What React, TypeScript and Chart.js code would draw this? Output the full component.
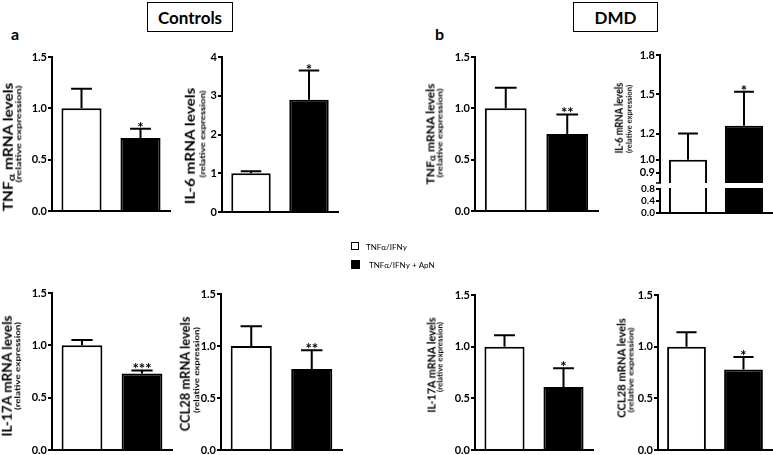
import React, { useEffect, useRef } from "react";
import { Chart, registerables } from "chart.js";
Chart.register(...registerables);

const FONT = "Lato, 'Open Sans', sans-serif";

// ---------- data ----------
const groups = ["TNFα/IFNγ", "TNFα/IFNγ + ApN"];
const barColors = ["#ffffff", "#000000"];

const ctrlTnfMean = [1.0, 0.71];
const ctrlTnfErr = [0.19, 0.09];
const ctrlTnfSig = ["", "*"];

const ctrlIl6Mean = [1.0, 2.9];
const ctrlIl6Err = [0.05, 0.75];
const ctrlIl6Sig = ["", "*"];

const dmdTnfMean = [1.0, 0.75];
const dmdTnfErr = [0.2, 0.19];
const dmdTnfSig = ["", "**"];

const dmdIl6Mean = [1.0, 1.26];
const dmdIl6Err = [0.2, 0.26];
const dmdIl6Sig = ["", "*"];

const ctrlIl17Mean = [1.0, 0.73];
const ctrlIl17Err = [0.05, 0.03];
const ctrlIl17Sig = ["", "***"];

const ctrlCclMean = [1.0, 0.78];
const ctrlCclErr = [0.19, 0.18];
const ctrlCclSig = ["", "**"];

const dmdIl17Mean = [1.0, 0.61];
const dmdIl17Err = [0.11, 0.18];
const dmdIl17Sig = ["", "*"];

const dmdCclMean = [1.0, 0.78];
const dmdCclErr = [0.14, 0.12];
const dmdCclSig = ["", "*"];

const ticks15 = [0, 0.5, 1.0, 1.5];
const ticks4 = [0, 1, 2, 3, 4];
const brokenUpperTicks = [0.9, 1.0, 1.2, 1.5, 1.8];
const brokenLowerTicks = [0, 0.4, 0.8];
const brokenUpperRange = [0.8, 1.8];
const brokenLowerRange = [0, 0.9];

// ---------- layout ----------
const YW = 26; // y axis box width
const PT = 10;
const PB = 8;
const BP = 0.68;

type Geom = { ax: number; end: number; top: number; bottom: number };

const errPlugin = (mean: number[], err: number[], sig: string[], yID: string, dsIndex: number) => ({
  id: "errbars",
  afterDatasetsDraw(chart: any) {
    const ctx = chart.ctx;
    const ys = chart.scales[yID];
    const meta = chart.getDatasetMeta(dsIndex);
    ctx.save();
    ctx.strokeStyle = "#000";
    ctx.fillStyle = "#000";
    ctx.lineWidth = 2;
    meta.data.forEach((bar: any, i: number) => {
      const x = bar.x;
      const w = bar.width;
      const y0 = ys.getPixelForValue(mean[i]);
      const y1 = ys.getPixelForValue(mean[i] + err[i]);
      ctx.beginPath();
      ctx.moveTo(x, y0);
      ctx.lineTo(x, y1);
      ctx.moveTo(x - w * 0.26, y1);
      ctx.lineTo(x + w * 0.26, y1);
      ctx.stroke();
      if (sig[i]) {
        ctx.font = `bold 15px ${FONT}`;
        ctx.textAlign = "center";
        ctx.textBaseline = "alphabetic";
        ctx.fillText(sig[i], x, y1 + 4);
      }
    });
    ctx.restore();
  },
});

const yAxis = (ticks: number[], digits: number, extra: any = {}, size = 11) => ({
  min: ticks[0],
  max: ticks[ticks.length - 1],
  afterBuildTicks: (s: any) => {
    s.ticks = ticks.map((v) => ({ value: v }));
  },
  afterFit: (s: any) => {
    s.width = YW;
  },
  grid: { display: true, drawOnChartArea: false, drawTicks: true, tickLength: 4, color: "#000", lineWidth: 2 },
  border: { display: true, color: "#000", width: 2 },
  ticks: {
    font: { family: FONT, size, weight: "bold" },
    color: "#000",
    padding: 1,
    autoSkip: false,
    callback: (v: any) => Number(v).toFixed(digits),
  },
  ...extra,
});

const xAxis = {
  afterFit: (s: any) => {
    s.height = PB;
  },
  grid: { display: true, drawOnChartArea: false, drawTicks: false },
  border: { display: true, color: "#000", width: 2 },
  ticks: { display: false },
};

function canvasBox(g: Geom) {
  const left = g.ax - YW;
  const top = g.top - PT;
  return { left, top, width: g.end - left + 1, height: g.bottom - top + PB };
}

function BarPanel({ g, mean, err, sig, ticks, digits }: any) {
  const ref = useRef<HTMLCanvasElement>(null);
  const box = canvasBox(g);
  useEffect(() => {
    const chart = new Chart(ref.current as HTMLCanvasElement, {
      type: "bar",
      data: {
        labels: groups,
        datasets: [
          {
            data: mean,
            backgroundColor: barColors,
            borderColor: "#000",
            borderWidth: 2,
            borderSkipped: "start",
            barPercentage: BP,
            categoryPercentage: 1,
          },
        ],
      },
      options: {
        responsive: false,
        animation: false,
        devicePixelRatio: 1,
        layout: { padding: { top: PT, right: 1, left: 0, bottom: 0 } },
        plugins: { legend: { display: false }, tooltip: { enabled: false } },
        scales: { x: xAxis as any, y: yAxis(ticks, digits) as any },
      },
      plugins: [errPlugin(mean, err, sig, "y", 0)],
    });
    return () => chart.destroy();
  }, []);
  return (
    <canvas
      ref={ref}
      width={box.width}
      height={box.height}
      style={{ position: "absolute", left: box.left, top: box.top, width: box.width, height: box.height }}
    />
  );
}

const breakPlugin = {
  id: "axisbreak",
  afterDraw(chart: any) {
    const ctx = chart.ctx;
    const hi = chart.scales.yHigh;
    const ca = chart.chartArea;
    const yb = hi.bottom;
    ctx.save();
    ctx.fillStyle = "#fff";
    ctx.fillRect(ca.left - 5, yb - 3, ca.right - ca.left + 6, 5);
    ctx.strokeStyle = "#000";
    ctx.lineWidth = 1.5;
    ctx.beginPath();
    ctx.moveTo(ca.left - 4, yb - 3);
    ctx.lineTo(ca.left + 1, yb - 3);
    ctx.stroke();
    ctx.restore();
  },
};

function BrokenPanel({ g, mean, err, sig }: any) {
  const ref = useRef<HTMLCanvasElement>(null);
  const box = canvasBox(g);
  useEffect(() => {
    const upperData = mean.map((v: number) => [brokenUpperRange[0], v]);
    const lowerData = mean.map((v: number) => Math.min(v, brokenLowerRange[1]));
    const chart = new Chart(ref.current as HTMLCanvasElement, {
      type: "bar",
      data: {
        labels: groups,
        datasets: [
          {
            data: upperData,
            yAxisID: "yHigh",
            backgroundColor: barColors,
            borderColor: "#000",
            borderWidth: 2,
            borderSkipped: "start",
            barPercentage: BP,
            categoryPercentage: 1,
            grouped: false,
          } as any,
          {
            data: lowerData,
            yAxisID: "yLow",
            backgroundColor: barColors,
            borderColor: "#000",
            borderWidth: 2,
            borderSkipped: "start",
            barPercentage: BP,
            categoryPercentage: 1,
            grouped: false,
          } as any,
        ],
      },
      options: {
        responsive: false,
        animation: false,
        devicePixelRatio: 1,
        layout: { padding: { top: PT, right: 1, left: 0, bottom: 0 } },
        plugins: { legend: { display: false }, tooltip: { enabled: false } },
        scales: {
          x: xAxis as any,
          yLow: {
            ...yAxis(brokenLowerTicks, 1, { stack: "brk", stackWeight: 27, offset: false }, 10),
            min: brokenLowerRange[0],
            max: brokenLowerRange[1],
          } as any,
          yHigh: {
            ...yAxis(brokenUpperTicks, 1, { stack: "brk", stackWeight: 131, offset: false }),
            min: brokenUpperRange[0],
            max: brokenUpperRange[1],
          } as any,
        },
      },
      plugins: [errPlugin(mean, err, sig, "yHigh", 0), breakPlugin],
    });
    return () => chart.destroy();
  }, []);
  return (
    <canvas
      ref={ref}
      width={box.width}
      height={box.height}
      style={{ position: "absolute", left: box.left, top: box.top, width: box.width, height: box.height }}
    />
  );
}

let measureCtx: CanvasRenderingContext2D | null = null;
function textWidth(text: string, font: string) {
  if (!measureCtx) measureCtx = document.createElement("canvas").getContext("2d");
  measureCtx!.font = font;
  return measureCtx!.measureText(text).width;
}

function VText({ text, alpha, cx, cy, size, len }: any) {
  const font = `bold ${size}px ${FONT}`;
  const w = textWidth(text, font);
  const sx = len / w;
  let content: any = text;
  if (alpha) {
    const [a, b] = text.split("α");
    content = (
      <>
        {a}
        <span style={{ fontSize: "0.8em", verticalAlign: "-0.15em" }}>α</span>
        {b}
      </>
    );
  }
  return (
    <div
      style={{
        position: "absolute",
        left: cx,
        top: cy,
        transform: `translate(-50%, -50%) rotate(-90deg) scaleX(${sx})`,
        willChange: "transform",
        whiteSpace: "nowrap",
        font,
        lineHeight: 1,
        color: "#000",
      }}
    >
      {content}
    </div>
  );
}

const SUB = "(relative expression)";

const titles = [
  { text: "TNFα mRNA levels", alpha: true, cx: 8.5, cy: 147, size: 12.5, len: 131, sx: 18.5, sy: 133.5, ss: 7.5, sl: 97 },
  { text: "IL-6 mRNA levels", cx: 190.5, cy: 146, size: 12.5, len: 117, sx: 203, sy: 133.5, ss: 7.5, sl: 87 },
  { text: "TNFα mRNA levels", alpha: true, cx: 430.5, cy: 133.5, size: 11, len: 103, sx: 440, sy: 132.5, ss: 7, sl: 89 },
  { text: "IL-6 mRNA levels", cx: 619, cy: 118, size: 10.5, len: 71, sx: 629.5, sy: 119, ss: 6.5, sl: 68 },
  { text: "IL-17A mRNA levels", cx: 8, cy: 376, size: 12.5, len: 122, sx: 18, sy: 366, ss: 7.5, sl: 88 },
  { text: "CCL28 mRNA levels", cx: 185.5, cy: 374, size: 12.5, len: 115, sx: 196.5, sy: 370, ss: 7.5, sl: 86 },
  { text: "IL-17A mRNA levels", cx: 430.5, cy: 365, size: 11, len: 96, sx: 440, sy: 357, ss: 7, sl: 70 },
  { text: "CCL28 mRNA levels", cx: 620.5, cy: 368, size: 11, len: 100, sx: 630.5, sy: 369.5, ss: 7, sl: 85 },
];

const legendText: any = {
  position: "absolute",
  transform: "translateY(-50%)",
  willChange: "transform",
  font: `8px ${FONT}`,
  lineHeight: 1,
  whiteSpace: "nowrap",
  color: "#000",
};

export default function App() {
  return (
    <div
      style={{
        position: "absolute",
        left: 0,
        top: 0,
        width: 773,
        height: 455,
        overflow: "hidden",
        background: "#fff",
        fontFamily: FONT,
      }}
    >
      {/* headers */}
      <div style={{ position: "absolute", left: 147, top: 2, width: 86, height: 30, border: "1px solid #000", boxSizing: "border-box", display: "flex", alignItems: "center", justifyContent: "center", font: `bold 17px ${FONT}` }}>
        Controls
      </div>
      <div style={{ position: "absolute", left: 573, top: 2, width: 85, height: 30, border: "1px solid #000", boxSizing: "border-box", display: "flex", alignItems: "center", justifyContent: "center", font: `bold 17px ${FONT}` }}>
        DMD
      </div>
      <div style={{ position: "absolute", left: 11, top: 26, font: `bold 16px ${FONT}`, lineHeight: 1 }}>a</div>
      <div style={{ position: "absolute", left: 435, top: 26, font: `bold 16px ${FONT}`, lineHeight: 1 }}>b</div>

      {/* legend */}
      <div style={{ position: "absolute", left: 351, top: 242, width: 8, height: 8, border: "1px solid #000", boxSizing: "border-box", background: "#fff" }} />
      <div style={{ ...legendText, left: 366, top: 247 }}>{groups[0]}</div>
      <div style={{ position: "absolute", left: 351, top: 260, width: 9, height: 9, background: "#000" }} />
      <div style={{ ...legendText, left: 369, top: 265 }}>{groups[1]}</div>

      {/* charts */}
      <BarPanel g={{ ax: 52, end: 170, top: 57, bottom: 211 }} mean={ctrlTnfMean} err={ctrlTnfErr} sig={ctrlTnfSig} ticks={ticks15} digits={1} />
      <BarPanel g={{ ax: 222, end: 338, top: 57, bottom: 212 }} mean={ctrlIl6Mean} err={ctrlIl6Err} sig={ctrlIl6Sig} ticks={ticks4} digits={0} />
      <BarPanel g={{ ax: 475, end: 598, top: 57, bottom: 211 }} mean={dmdTnfMean} err={dmdTnfErr} sig={dmdTnfSig} ticks={ticks15} digits={1} />
      <BrokenPanel g={{ ax: 660, end: 772, top: 55, bottom: 213 }} mean={dmdIl6Mean} err={dmdIl6Err} sig={dmdIl6Sig} />
      <BarPanel g={{ ax: 52, end: 172, top: 293, bottom: 450 }} mean={ctrlIl17Mean} err={ctrlIl17Err} sig={ctrlIl17Sig} ticks={ticks15} digits={1} />
      <BarPanel g={{ ax: 221, end: 342, top: 294, bottom: 450 }} mean={ctrlCclMean} err={ctrlCclErr} sig={ctrlCclSig} ticks={ticks15} digits={1} />
      <BarPanel g={{ ax: 475, end: 593, top: 295, bottom: 450 }} mean={dmdIl17Mean} err={dmdIl17Err} sig={dmdIl17Sig} ticks={ticks15} digits={1} />
      <BarPanel g={{ ax: 658, end: 772, top: 295, bottom: 450 }} mean={dmdCclMean} err={dmdCclErr} sig={dmdCclSig} ticks={ticks15} digits={1} />

      {/* axis titles */}
      {titles.map((t, i) => (
        <React.Fragment key={i}>
          <VText text={t.text} alpha={t.alpha} cx={t.cx} cy={t.cy} size={t.size} len={t.len} />
          <VText text={SUB} cx={t.sx} cy={t.sy} size={t.ss} len={t.sl} />
        </React.Fragment>
      ))}
    </div>
  );
}
